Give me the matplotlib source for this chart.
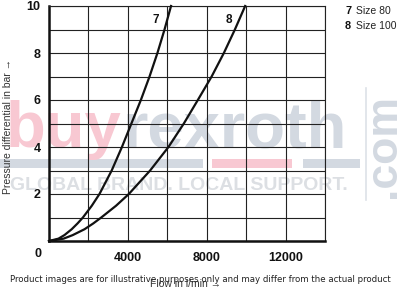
import matplotlib
matplotlib.use("Agg")
import matplotlib.pyplot as plt
from matplotlib.ticker import MultipleLocator, FixedLocator

# Data
dp_7 = [0, 0.1, 0.25, 0.5, 0.75, 1, 1.5, 2, 3, 4, 5, 6, 7, 8, 9, 10]
flow_7 = [0, 480, 780, 1150, 1450, 1720, 2170, 2560, 3180, 3700, 4180, 4660, 5100, 5500, 5860, 6190]
dp_8 = [0, 0.1, 0.25, 0.5, 0.75, 1, 1.5, 2, 3, 4, 5, 6, 7, 8, 9, 10]
flow_8 = [0, 740, 1200, 1800, 2250, 2650, 3400, 4050, 5130, 6060, 6840, 7550, 8250, 8870, 9430, 9950]

x_ticks = [4000, 8000, 12000]
y_ticks = [2, 4, 6, 8, 10]
legend_items = [("7", "Size 80"), ("8", "Size 100")]

W, H = 400, 290
fig = plt.figure(figsize=(4, 2.9), dpi=100)
ax = fig.add_axes([49 / W, 1 - 241 / H, (325 - 49) / W, (241 - 6) / H])
ax.patch.set_alpha(0)

def fx(px):
    return px / W

def fy(py):
    return 1 - py / H

# --- watermark (behind the chart) ---
wm_font = "Liberation Sans"
pink = "#f8c8d2"
grey = "#d3d9e1"
fig.text(fx(121), fy(147), "buy", fontsize=47, fontweight="bold", family=wm_font,
         color=pink, ha="right", va="baseline", zorder=-5)
fig.text(fx(123), fy(147), "rexroth", fontsize=47, fontweight="bold", family=wm_font,
         color=grey, ha="left", va="baseline", zorder=-5)
fig.text(fx(384), fy(146), ".com", fontsize=32, fontweight="bold", family=wm_font,
         color=grey, ha="center", va="center", rotation=90, zorder=-5)
fig.add_artist(plt.Line2D([fx(366), fx(366)], [fy(88), fy(200)], color="#dde1e7",
                          lw=1.2, zorder=-5))
for (x0, x1, c) in [(0, 203, grey), (212, 292, pink), (303, 360, grey)]:
    fig.add_artist(plt.Rectangle((fx(x0), fy(168)), fx(x1) - fx(x0), fy(159) - fy(168),
                                 transform=fig.transFigure, color=c, zorder=-5, lw=0))
fig.text(fx(10), fy(186), "GLOBAL BRAND. LOCAL SUPPORT.", fontsize=14, fontweight="bold",
         family=wm_font, color="#dcdfe3", ha="left", va="center", zorder=-5)

# --- curves ---
ax.plot(flow_7, dp_7, color="#111111", lw=1.6, zorder=4, clip_on=False)
ax.plot(flow_8, dp_8, color="#111111", lw=1.6, zorder=4, clip_on=False)

ax.set_xlim(0, 14000)
ax.set_ylim(0, 10)
ax.xaxis.set_major_locator(FixedLocator(x_ticks))
ax.xaxis.set_minor_locator(MultipleLocator(2000))
ax.yaxis.set_major_locator(FixedLocator(y_ticks))
ax.yaxis.set_minor_locator(MultipleLocator(1))
ax.grid(True, which="both", color="#222222", lw=0.8)
ax.set_axisbelow(True)
ax.tick_params(which="both", length=0)
ax.tick_params(axis="y", pad=6)
ax.tick_params(axis="x", pad=8)
for lab in ax.get_xticklabels() + ax.get_yticklabels():
    lab.set_fontfamily("Liberation Sans")
    lab.set_fontweight("bold")
    lab.set_fontsize(9)
    lab.set_color("#111111")

for s in ["left", "bottom"]:
    ax.spines[s].set_linewidth(1.8)
    ax.spines[s].set_color("#111111")
for s in ["top", "right"]:
    ax.spines[s].set_linewidth(0.8)
    ax.spines[s].set_color("#222222")

# origin label
fig.text(fx(38), fy(254), "0", fontsize=9, fontweight="bold", family="Liberation Sans",
         color="#111111", ha="center", va="center")

# curve labels
ax.text(5400, 9.4, "7", fontsize=8.5, fontweight="bold", family="Liberation Sans",
        ha="center", va="center", color="#111111")
ax.text(9100, 9.4, "8", fontsize=8.5, fontweight="bold", family="Liberation Sans",
        ha="center", va="center", color="#111111")

# legend
for i, (num, txt) in enumerate(legend_items):
    y = fy(11 + i * 15)
    fig.text(fx(345), y, num, fontsize=7.8, fontweight="bold", family="Liberation Sans",
             ha="left", va="center", color="#111111")
    fig.text(fx(356), y, txt, fontsize=7.5, family="Liberation Sans",
             ha="left", va="center", color="#222222")

# axis labels
fig.text(fx(8), fy(126), "Pressure differential in bar \u2192", rotation=90, fontsize=7.5,
         family="Liberation Sans", color="#333333", ha="center", va="center")
fig.text(fx(150), fy(284), "Flow in l/min \u2192", fontsize=7.5, family="Liberation Sans",
         color="#333333", ha="left", va="center")

# disclaimer
fig.text(fx(200), fy(280), "Product images are for illustrative purposes only and may differ from the actual product",
         fontsize=6.2, family="DejaVu Sans", color="#222222", ha="center", va="center")

fig.savefig("out.png", dpi=100)
